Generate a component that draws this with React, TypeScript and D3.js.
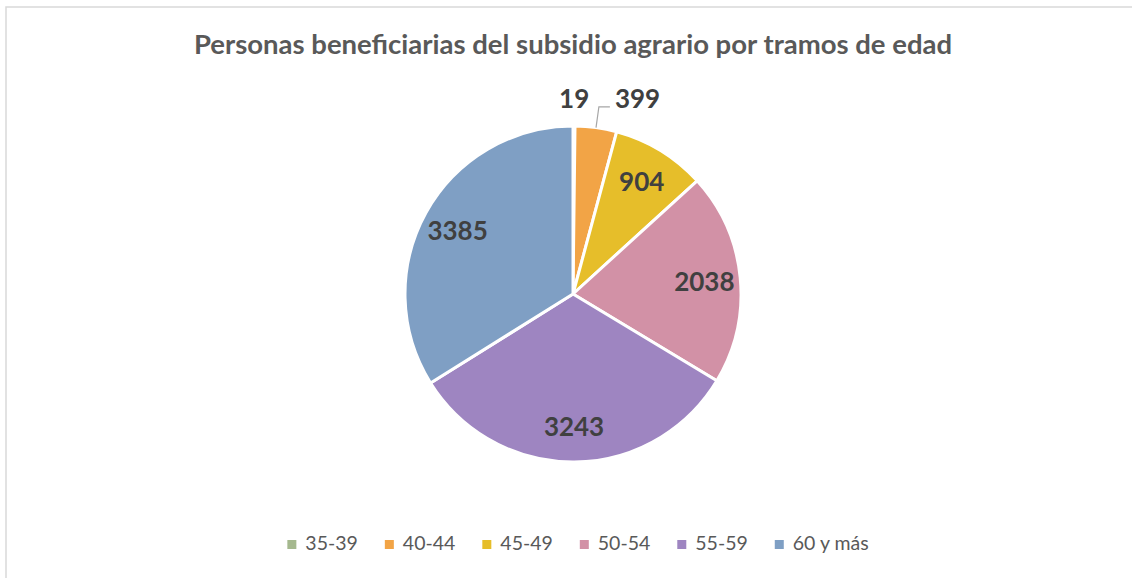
import React, { useEffect, useRef } from 'react';
import * as d3 from 'd3';

const categories = ['35-39', '40-44', '45-49', '50-54', '55-59', '60 y más'];
const values = [19, 399, 904, 2038, 3243, 3385];
const colors = ['#a5b88e', '#f2a446', '#e6be2a', '#d291a6', '#9e85c1', '#7f9fc4'];
const title = 'Personas beneficiarias del subsidio agrario por tramos de edad';

const W = 1132;
const H = 578;
const FONT = 'Lato, "Open Sans", sans-serif';

export default function App() {
  const ref = useRef<SVGSVGElement>(null);

  useEffect(() => {
    const svg = d3.select(ref.current);
    svg.selectAll('*').remove();

    // frame
    svg.append('rect')
      .attr('x', 6).attr('y', 7)
      .attr('width', W + 20).attr('height', H + 20)
      .attr('fill', '#fff')
      .attr('stroke', '#d9d9d9').attr('stroke-width', 1.5);

    svg.append('text')
      .attr('x', 573).attr('y', 54)
      .attr('text-anchor', 'middle')
      .attr('font-family', FONT).attr('font-weight', 700).attr('font-size', 27.5)
      .attr('fill', '#595959')
      .text(title);

    const cx = 573, cy = 294, r = 168;
    const data = categories.map((c, i) => ({ name: c, value: values[i], color: colors[i] }));
    const total = d3.sum(values);

    const pie = d3.pie<any>().sort(null).value(d => d.value);
    const arcs = pie(data);
    const arc = d3.arc<any>().innerRadius(0).outerRadius(r);
    const labelArc = d3.arc<any>().innerRadius(132).outerRadius(132);

    const g = svg.append('g').attr('transform', `translate(${cx},${cy})`);

    g.selectAll('path.slice')
      .data(arcs)
      .enter().append('path')
      .attr('class', 'slice')
      .attr('d', arc)
      .attr('fill', d => d.data.color)
      .attr('stroke', '#fff')
      .attr('stroke-width', 3)
      .attr('stroke-linejoin', 'round');

    const labelStyle = (sel: any) => sel
      .attr('font-family', FONT).attr('font-weight', 700).attr('font-size', 26)
      .attr('fill', '#404040')
      .attr('dominant-baseline', 'central');

    // big slices: label inside
    g.selectAll('text.inner')
      .data(arcs.filter(d => d.data.value / total >= 0.05))
      .enter().append('text')
      .attr('class', 'inner')
      .attr('transform', d => `translate(${labelArc.centroid(d)})`)
      .attr('text-anchor', 'middle')
      .call(labelStyle)
      .text(d => d.data.value);

    // small slices: label outside
    const small = arcs.filter(d => d.data.value / total < 0.05);
    const outY = -(r + 28);
    small.forEach((d, i) => {
      const a = (d.startAngle + d.endAngle) / 2;
      if (i === 0) {
        g.append('text')
          .attr('x', Math.sin(a) * (r + 26))
          .attr('y', outY)
          .attr('text-anchor', 'middle')
          .call(labelStyle)
          .text(d.data.value);
      } else {
        const p0 = [Math.sin(a) * r, -Math.cos(a) * r];
        const p1 = [Math.sin(a) * (r + 21), -Math.cos(a) * (r + 21)];
        const p2 = [p1[0] + 11, p1[1]];
        g.append('polyline')
          .attr('points', [p0, p1, p2].map(p => p.join(',')).join(' '))
          .attr('fill', 'none')
          .attr('stroke', '#a6a6a6')
          .attr('stroke-width', 1.2);
        g.append('text')
          .attr('x', p2[0] + 5)
          .attr('y', outY)
          .attr('text-anchor', 'start')
          .call(labelStyle)
          .text(d.data.value);
      }
    });

    // legend
    const leg = svg.append('g');
    const items = leg.selectAll('g.item')
      .data(data)
      .enter().append('g')
      .attr('class', 'item');
    items.append('rect')
      .attr('width', 9).attr('height', 9)
      .attr('y', -9)
      .attr('fill', d => d.color);
    items.append('text')
      .attr('x', 18)
      .attr('y', 1)
      .attr('font-family', FONT).attr('font-size', 19.5)
      .attr('fill', '#595959')
      .text(d => d.name);

    let x = 0;
    const gap = 27;
    items.each(function () {
      const t = d3.select(this).select('text').node() as SVGTextElement;
      const w = 18 + t.getComputedTextLength();
      d3.select(this).attr('transform', `translate(${x},0)`);
      x += w + gap;
    });
    const legW = x - gap;
    leg.attr('transform', `translate(${578 - legW / 2},549)`);
  }, []);

  return (
    <svg ref={ref} width={W} height={H}
      style={{ position: 'absolute', left: 0, top: 0, background: '#fff' }} />
  );
}
